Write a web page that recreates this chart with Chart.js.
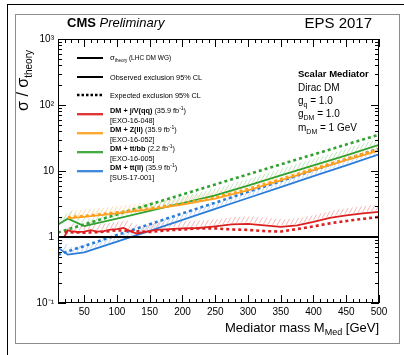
<!DOCTYPE html>
<html>
<head>
<meta charset="utf-8">
<script src="https://cdn.jsdelivr.net/npm/chart.js@4.4.1/dist/chart.umd.min.js"></script>
<style>
  html, body { margin: 0; padding: 0; background: #fff; }
  #wrap { position: relative; width: 404px; height: 355px; overflow: hidden; }
  #outer { position: absolute; left: 7px; top: 4px; width: 420px; height: 400px; border-left: 1px solid #000; border-top: 1px solid #000; }
  #inner { position: absolute; left: 15px; top: 14px; width: 383px; height: 328px; border: 1px solid #8c8c8c; }
  canvas { position: absolute; left: 0; top: 0; }
</style>
</head>
<body>
<div id="wrap">
  <div id="outer"></div>
  <div id="inner"></div>
  <canvas id="limits" width="404" height="355"></canvas>
</div>
<script>
const FONT = '"Liberation Sans", Arial, Helvetica, sans-serif';

// DM + j/V(qq)  [EXO-16-048]
const massJV = [20, 25, 30, 40, 50, 60, 70, 80, 90, 100, 110, 120, 130, 145, 160, 180, 200, 225, 250, 275, 300, 325, 350, 375, 400, 425, 450, 475, 500];
const obsJV = [1.02, 1.26, 1.23, 1.19, 1.21, 1.27, 1.21, 1.23, 1.29, 1.32, 1.37, 1.23, 1.13, 1.21, 1.28, 1.32, 1.35, 1.37, 1.45, 1.55, 1.58, 1.50, 1.42, 1.50, 1.69, 1.95, 2.13, 2.28, 2.41];
const massJVexp = [20, 50, 75, 100, 125, 150, 175, 200, 225, 250, 275, 300, 325, 350, 375, 400, 425, 450, 475, 500];
const expJV = [1.19, 1.16, 1.19, 1.26, 1.23, 1.19, 1.26, 1.30, 1.35, 1.35, 1.30, 1.28, 1.23, 1.21, 1.32, 1.45, 1.61, 1.75, 1.88, 2.02];

// DM + Z(ll)  [EXO-16-052]
const massZll = [25, 50, 100, 150, 200, 250, 300, 350, 400, 450, 500];
const obsZll = [1.92, 2.02, 2.28, 2.62, 3.1, 3.8, 5.1, 7.2, 10.3, 14.6, 20.4];
const expZll = [1.98, 2.08, 2.36, 2.72, 3.22, 3.95, 5.35, 7.5, 10.8, 15.3, 21.4];

// DM + tt/bb  [EXO-16-005]
const massTTBB = [10, 25, 50, 100, 150, 200, 250, 300, 350, 400, 450, 500];
const obsTTBB = [1.55, 1.9, 1.46, 1.9, 2.49, 3.27, 4.29, 6.0, 8.6, 12.2, 17.3, 24.9];
const expTTBB = [1.17, 1.3, 1.55, 2.2, 3.11, 4.41, 6.26, 8.89, 12.6, 17.8, 25.2, 35.5];

// DM + tt(ll)  [SUS-17-001]
const massTTll = [10, 25, 50, 100, 150, 200, 250, 300, 350, 400, 450, 500];
const obsTTll = [0.69, 0.54, 0.586, 0.85, 1.24, 1.82, 2.67, 3.9, 5.7, 8.36, 12.2, 17.9];
const expTTll = [0.54, 0.605, 0.73, 1.07, 1.56, 2.28, 3.31, 4.83, 7.03, 10.3, 15.0, 21.8];

// theory reference line
const theoryMass = [10, 500];
const theoryRatio = [1, 1];

// axes
const xRange = [10, 500];
const xLabelEvery = 50;
const yDecades = [0.1, 1, 10, 100, 1000];
const yDecadeLabels = ['10\u207B\u00B9', '1', '10', '10\u00B2', '10\u00B3'];

// legend text
const bandNames = ['DM + j/V(qq)', 'DM + Z(ll)', 'DM + tt/bb', 'DM + tt(ll)'];
const bandLumi = ['35.9', '35.9', '2.2', '35.9'];
const bandRefs = ['[EXO-16-048]', '[EXO-16-052]', '[EXO-16-005]', '[SUS-17-001]'];

const cRed = '#dc1f1f', cOrange = '#ffa01e', cGreen = '#2fa22f', cBlue = '#2b7cd8';
const hRed = '#f5b4b4', hOrange = '#ffdcae', hGreen = '#bfe4bf', hBlue = '#bcd5f4';
const bandColors = [cRed, cOrange, cGreen, cBlue];
const hatchColors = [hRed, hOrange, hGreen, hBlue];

const xTickValues = [];
for (let m = xRange[0]; m <= xRange[1]; m += 10) xTickValues.push(m);
const yTickValues = [];
yDecades.slice(0, -1).forEach(d => { for (let k = 1; k <= 9; k++) yTickValues.push(d * k); });
yTickValues.push(yDecades[yDecades.length - 1]);

function series(mass, vals) {
  return mass.map((m, i) => ({ x: m, y: vals[i] }));
}
function solid(label, mass, vals, color, hatch) {
  return { label, data: series(mass, vals), borderColor: color, borderWidth: 1.8,
           pointRadius: 0, tension: 0, fill: false, hatchColor: hatch };
}
function dotted(label, mass, vals, color) {
  return { label, data: series(mass, vals), borderColor: color, borderWidth: 2.6,
           borderDash: [3, 3], pointRadius: 0, tension: 0, fill: false };
}

// text with sub/superscripts, parts = [text, size, weight/style, dy]
function rich(ctx, x, y, parts, align) {
  const fontOf = p => (p[2] || 'normal') + ' ' + p[1] + 'px ' + FONT;
  let w = 0;
  parts.forEach(p => { ctx.font = fontOf(p); w += ctx.measureText(p[0]).width; });
  let cx = align === 'right' ? x - w : x;
  ctx.textAlign = 'left';
  parts.forEach(p => {
    ctx.font = fontOf(p);
    ctx.fillText(p[0], cx, y + (p[3] || 0));
    cx += ctx.measureText(p[0]).width;
  });
}

// light "////" hatching on the excluded side of each observed curve
const hatchPlugin = {
  id: 'hatch',
  beforeDatasetsDraw(chart) {
    const { ctx, chartArea: a } = chart;
    ctx.save();
    ctx.beginPath();
    ctx.rect(a.left, a.top, a.right - a.left, a.bottom - a.top);
    ctx.clip();
    ctx.lineWidth = 1;
    chart.data.datasets.forEach((ds, i) => {
      if (!ds.hatchColor) return;
      const pts = chart.getDatasetMeta(i).data;
      ctx.strokeStyle = ds.hatchColor;
      ctx.beginPath();
      let k = 0;
      for (let x = pts[0].x + 1; x <= pts[pts.length - 1].x; x += 4.5) {
        while (k < pts.length - 2 && pts[k + 1].x < x) k++;
        const p = pts[k], q = pts[k + 1];
        const y = p.y + (q.y - p.y) * (x - p.x) / (q.x - p.x);
        ctx.moveTo(x, y - 1.5);
        ctx.lineTo(x + 3.5, y - 7.5);
      }
      ctx.stroke();
    });
    ctx.restore();
  }
};

// closed frame with inward ticks on all four sides
const framePlugin = {
  id: 'frame',
  afterDatasetsDraw(chart) {
    const { ctx, chartArea: a, scales: { x, y } } = chart;
    ctx.save();
    ctx.strokeStyle = '#000';
    ctx.lineWidth = 1;
    ctx.strokeRect(a.left + 0.5, a.top + 0.5, a.right - a.left - 1, a.bottom - a.top - 1);
    ctx.beginPath();
    x.ticks.forEach(t => {
      const px = Math.round(x.getPixelForValue(t.value)) + 0.5;
      const len = t.value % xLabelEvery === 0 ? 8 : 4;
      ctx.moveTo(px, a.bottom); ctx.lineTo(px, a.bottom - len);
      ctx.moveTo(px, a.top); ctx.lineTo(px, a.top + len);
    });
    y.ticks.forEach(t => {
      const py = Math.round(y.getPixelForValue(t.value)) + 0.5;
      const len = yDecades.includes(t.value) ? 8 : 4;
      ctx.moveTo(a.left, py); ctx.lineTo(a.left + len, py);
      ctx.moveTo(a.right, py); ctx.lineTo(a.right - len, py);
    });
    ctx.stroke();
    ctx.restore();
  }
};

// titles, legend and model description
const textPlugin = {
  id: 'texts',
  afterDraw(chart) {
    const { ctx, chartArea: a } = chart;
    ctx.save();
    ctx.fillStyle = '#000';
    ctx.textBaseline = 'alphabetic';

    rich(ctx, 67, 27, [['CMS', 13, 'bold'], [' ', 13], ['Preliminary', 13, 'italic']]);
    rich(ctx, 372, 28, [['EPS 2017', 15]], 'right');

    // axis titles
    rich(ctx, a.right, 332, [['Mediator mass M', 13], ['Med', 9, 'normal', 3], [' [GeV]', 13]], 'right');
    ctx.save();
    ctx.translate(28, 50);
    ctx.rotate(-Math.PI / 2);
    rich(ctx, 0, 0, [['\u03C3 / \u03C3', 16], ['theory', 10, 'normal', 4]], 'right');
    ctx.restore();

    // model
    rich(ctx, 298, 77, [['Scalar Mediator', 9.5, 'bold']]);
    rich(ctx, 298, 91, [['Dirac DM', 10]]);
    rich(ctx, 298, 104, [['g', 10], ['q', 7, 'normal', 2.5], [' = 1.0', 10]]);
    rich(ctx, 298, 117, [['g', 10], ['DM', 7, 'normal', 2.5], [' = 1.0', 10]]);
    rich(ctx, 298, 131, [['m', 10], ['DM', 7, 'normal', 2.5], [' = 1 GeV', 10]]);

    // legend
    const lx0 = 77, lx1 = 103, tx = 110;
    const seg = (yy, color, w, dash) => {
      ctx.beginPath();
      ctx.strokeStyle = color;
      ctx.lineWidth = w;
      ctx.setLineDash(dash || []);
      ctx.moveTo(lx0, yy); ctx.lineTo(lx1, yy);
      ctx.stroke();
      ctx.setLineDash([]);
    };
    seg(58, '#000', 2);
    rich(ctx, tx, 60, [['\u03C3', 7.5], ['theory', 4.5, 'normal', 1.5], [' (LHC DM WG)', 6.5]]);
    seg(77, '#000', 2);
    rich(ctx, tx, 79.5, [['Observed exclusion 95% CL', 7.3]]);
    seg(95, '#000', 2.5, [2.5, 2]);
    rich(ctx, tx, 97.5, [['Expected exclusion 95% CL', 7.3]]);
    bandNames.forEach((name, i) => {
      const ly = 114 + 19 * i;
      seg(ly + 1.5, hatchColors[i], 1);
      seg(ly, bandColors[i], 1.8);
      rich(ctx, tx, ly - 1, [[name, 7.3, 'bold'], [' (' + bandLumi[i] + ' fb', 7.3], ['-1', 5, 'normal', -3], [')', 7.3]]);
      rich(ctx, tx, ly + 8.5, [[bandRefs[i], 7.3]]);
    });
    ctx.restore();
  }
};

const tickFont = { family: FONT, size: 10 };

new Chart(document.getElementById('limits'), {
  type: 'line',
  data: {
    datasets: [
      solid('theory', theoryMass, theoryRatio, '#000', null),
      solid('j/V obs', massJV, obsJV, cRed, hRed),
      dotted('j/V exp', massJVexp, expJV, cRed),
      solid('Z(ll) obs', massZll, obsZll, cOrange, hOrange),
      dotted('Z(ll) exp', massZll, expZll, cOrange),
      solid('tt/bb obs', massTTBB, obsTTBB, cGreen, hGreen),
      dotted('tt/bb exp', massTTBB, expTTBB, cGreen),
      solid('tt(ll) obs', massTTll, obsTTll, cBlue, hBlue),
      dotted('tt(ll) exp', massTTll, expTTll, cBlue)
    ]
  },
  options: {
    responsive: false,
    animation: false,
    devicePixelRatio: 1,
    layout: { padding: { left: 0, top: 39, right: 25, bottom: 0 } },
    plugins: { legend: { display: false }, tooltip: { enabled: false } },
    scales: {
      x: {
        type: 'linear', min: xRange[0], max: xRange[1],
        afterFit(s) { s.height = 52; },
        afterBuildTicks(s) { s.ticks = xTickValues.map(v => ({ value: v })); },
        ticks: {
          callback: v => (v % xLabelEvery === 0 ? String(v) : ''),
          autoSkip: false, maxRotation: 0, minRotation: 0,
          font: tickFont, color: '#000', padding: 3
        },
        grid: { display: false, drawTicks: false },
        border: { display: false }
      },
      y: {
        type: 'logarithmic', min: yDecades[0], max: yDecades[yDecades.length - 1],
        afterFit(s) { s.width = 58; },
        afterBuildTicks(s) { s.ticks = yTickValues.map(v => ({ value: v })); },
        ticks: {
          callback: v => { const i = yDecades.indexOf(v); return i < 0 ? '' : yDecadeLabels[i]; },
          autoSkip: false, font: tickFont, color: '#000', padding: 4
        },
        grid: { display: false, drawTicks: false },
        border: { display: false }
      }
    }
  },
  plugins: [hatchPlugin, framePlugin, textPlugin]
});
</script>
</body>
</html>
